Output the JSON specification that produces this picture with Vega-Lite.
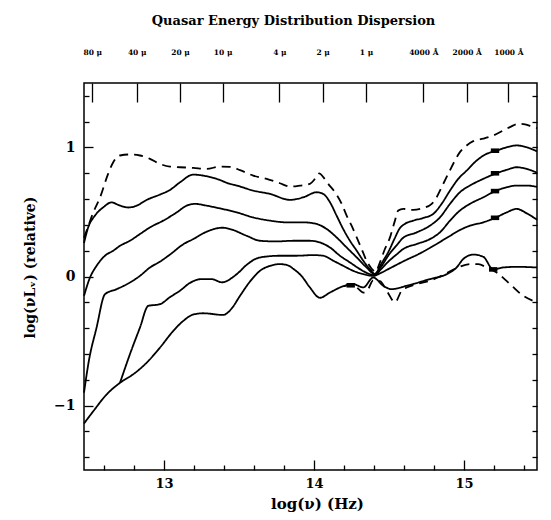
{
"$schema": "https://vega.github.io/schema/vega-lite/v6.json",
"width": 453, "height": 387,
"autosize": {"type": "none"},
"padding": {"left": 84, "top": 83, "right": 14, "bottom": 50},
"background": "white",
"title": {"text": "Quasar Energy Distribution Dispersion", "font": "DejaVu Serif", "fontSize": 13, "fontWeight": "bold", "anchor": "middle", "dx": -17, "offset": 20, "color": "black"},
"config": {
  "view": {"stroke": "black", "strokeWidth": 1.5},
  "axis": {"domain": false, "grid": false, "tickColor": "black", "tickWidth": 1.3, "labelColor": "black", "labelFont": "DejaVu Serif", "labelFontWeight": "bold", "titleFont": "DejaVu Serif", "titleFontWeight": "bold", "titleColor": "black", "labelFlush": false, "labelOverlap": false}
},
"datasets": {
"curves": [
{"series":"A","lognu":12.467,"loglum":0.30},{"series":"A","lognu":12.489,"loglum":0.37},{"series":"A","lognu":12.53,"loglum":0.50},{"series":"A","lognu":12.573,"loglum":0.61},{"series":"A","lognu":12.629,"loglum":0.80},{"series":"A","lognu":12.662,"loglum":0.886},{"series":"A","lognu":12.707,"loglum":0.938},{"series":"A","lognu":12.773,"loglum":0.946},{"series":"A","lognu":12.84,"loglum":0.938},{"series":"A","lognu":12.907,"loglum":0.912},{"series":"A","lognu":12.973,"loglum":0.873},{"series":"A","lognu":13.04,"loglum":0.852},{"series":"A","lognu":13.107,"loglum":0.847},{"series":"A","lognu":13.195,"loglum":0.842},{"series":"A","lognu":13.285,"loglum":0.834},{"series":"A","lognu":13.373,"loglum":0.852},{"series":"A","lognu":13.44,"loglum":0.85},{"series":"A","lognu":13.507,"loglum":0.825},{"series":"A","lognu":13.595,"loglum":0.782},{"series":"A","lognu":13.685,"loglum":0.757},{"series":"A","lognu":13.773,"loglum":0.723},{"series":"A","lognu":13.84,"loglum":0.697},{"series":"A","lognu":13.907,"loglum":0.705},{"series":"A","lognu":13.973,"loglum":0.718},{"series":"A","lognu":14.007,"loglum":0.757},{"series":"A","lognu":14.036,"loglum":0.80},{"series":"A","lognu":14.062,"loglum":0.77},{"series":"A","lognu":14.095,"loglum":0.718},{"series":"A","lognu":14.14,"loglum":0.653},{"series":"A","lognu":14.185,"loglum":0.563},{"series":"A","lognu":14.218,"loglum":0.472},{"series":"A","lognu":14.251,"loglum":0.394},{"series":"A","lognu":14.285,"loglum":0.303},{"series":"A","lognu":14.318,"loglum":0.213},{"series":"A","lognu":14.351,"loglum":0.122},{"series":"A","lognu":14.385,"loglum":0.06},{"series":"A","lognu":14.41,"loglum":0.035},{"series":"A","lognu":14.44,"loglum":0.11},{"series":"A","lognu":14.473,"loglum":0.213},{"series":"A","lognu":14.507,"loglum":0.303},{"series":"A","lognu":14.54,"loglum":0.433},{"series":"A","lognu":14.562,"loglum":0.511},{"series":"A","lognu":14.595,"loglum":0.524},{"series":"A","lognu":14.662,"loglum":0.516},{"series":"A","lognu":14.729,"loglum":0.531},{"series":"A","lognu":14.785,"loglum":0.563},{"series":"A","lognu":14.818,"loglum":0.614},{"series":"A","lognu":14.851,"loglum":0.692},{"series":"A","lognu":14.895,"loglum":0.796},{"series":"A","lognu":14.94,"loglum":0.899},{"series":"A","lognu":14.973,"loglum":0.964},{"series":"A","lognu":15.018,"loglum":1.016},{"series":"A","lognu":15.062,"loglum":1.049},{"series":"A","lognu":15.129,"loglum":1.068},{"series":"A","lognu":15.195,"loglum":1.093},{"series":"A","lognu":15.262,"loglum":1.132},{"series":"A","lognu":15.307,"loglum":1.158},{"series":"A","lognu":15.362,"loglum":1.184},{"series":"A","lognu":15.407,"loglum":1.179},{"series":"A","lognu":15.462,"loglum":1.158},{"series":"A","lognu":15.487,"loglum":1.15},
{"series":"B","lognu":12.467,"loglum":0.26},{"series":"B","lognu":12.495,"loglum":0.381},{"series":"B","lognu":12.54,"loglum":0.472},{"series":"B","lognu":12.595,"loglum":0.536},{"series":"B","lognu":12.651,"loglum":0.575},{"series":"B","lognu":12.695,"loglum":0.555},{"series":"B","lognu":12.762,"loglum":0.535},{"series":"B","lognu":12.818,"loglum":0.549},{"series":"B","lognu":12.885,"loglum":0.594},{"series":"B","lognu":12.973,"loglum":0.635},{"series":"B","lognu":13.04,"loglum":0.671},{"series":"B","lognu":13.107,"loglum":0.73},{"series":"B","lognu":13.195,"loglum":0.79},{"series":"B","lognu":13.262,"loglum":0.782},{"series":"B","lognu":13.351,"loglum":0.757},{"series":"B","lognu":13.44,"loglum":0.718},{"series":"B","lognu":13.485,"loglum":0.705},{"series":"B","lognu":13.595,"loglum":0.666},{"series":"B","lognu":13.707,"loglum":0.64},{"series":"B","lognu":13.84,"loglum":0.594},{"series":"B","lognu":13.929,"loglum":0.614},{"series":"B","lognu":14.018,"loglum":0.653},{"series":"B","lognu":14.062,"loglum":0.64},{"series":"B","lognu":14.107,"loglum":0.575},{"series":"B","lognu":14.151,"loglum":0.472},{"series":"B","lognu":14.195,"loglum":0.368},{"series":"B","lognu":14.24,"loglum":0.277},{"series":"B","lognu":14.285,"loglum":0.2},{"series":"B","lognu":14.329,"loglum":0.122},{"series":"B","lognu":14.373,"loglum":0.057},{"series":"B","lognu":14.405,"loglum":0.02},{"series":"B","lognu":14.45,"loglum":0.1},{"series":"B","lognu":14.5,"loglum":0.2},{"series":"B","lognu":14.54,"loglum":0.3},{"series":"B","lognu":14.57,"loglum":0.37},{"series":"B","lognu":14.605,"loglum":0.407},{"series":"B","lognu":14.662,"loglum":0.433},{"series":"B","lognu":14.729,"loglum":0.454},{"series":"B","lognu":14.795,"loglum":0.485},{"series":"B","lognu":14.851,"loglum":0.563},{"series":"B","lognu":14.907,"loglum":0.666},{"series":"B","lognu":14.962,"loglum":0.757},{"series":"B","lognu":15.018,"loglum":0.821},{"series":"B","lognu":15.085,"loglum":0.899},{"series":"B","lognu":15.151,"loglum":0.951},{"series":"B","lognu":15.207,"loglum":0.971},{"series":"B","lognu":15.285,"loglum":1.002},{"series":"B","lognu":15.351,"loglum":1.016},{"series":"B","lognu":15.418,"loglum":1.002},{"series":"B","lognu":15.487,"loglum":0.97},
{"series":"C","lognu":12.467,"loglum":-0.15},{"series":"C","lognu":12.507,"loglum":-0.008},{"series":"C","lognu":12.551,"loglum":0.083},{"series":"C","lognu":12.607,"loglum":0.161},{"series":"C","lognu":12.662,"loglum":0.2},{"series":"C","lognu":12.707,"loglum":0.238},{"series":"C","lognu":12.773,"loglum":0.277},{"series":"C","lognu":12.84,"loglum":0.329},{"series":"C","lognu":12.907,"loglum":0.381},{"series":"C","lognu":12.995,"loglum":0.433},{"series":"C","lognu":13.085,"loglum":0.497},{"series":"C","lognu":13.151,"loglum":0.549},{"series":"C","lognu":13.207,"loglum":0.563},{"series":"C","lognu":13.285,"loglum":0.549},{"series":"C","lognu":13.373,"loglum":0.528},{"series":"C","lognu":13.485,"loglum":0.497},{"series":"C","lognu":13.595,"loglum":0.458},{"series":"C","lognu":13.707,"loglum":0.433},{"series":"C","lognu":13.818,"loglum":0.42},{"series":"C","lognu":13.929,"loglum":0.42},{"series":"C","lognu":14.018,"loglum":0.407},{"series":"C","lognu":14.085,"loglum":0.368},{"series":"C","lognu":14.151,"loglum":0.303},{"series":"C","lognu":14.218,"loglum":0.225},{"series":"C","lognu":14.285,"loglum":0.148},{"series":"C","lognu":14.351,"loglum":0.07},{"series":"C","lognu":14.405,"loglum":0.02},{"series":"C","lognu":14.45,"loglum":0.08},{"series":"C","lognu":14.5,"loglum":0.17},{"series":"C","lognu":14.55,"loglum":0.24},{"series":"C","lognu":14.595,"loglum":0.3},{"series":"C","lognu":14.685,"loglum":0.342},{"series":"C","lognu":14.773,"loglum":0.394},{"series":"C","lognu":14.84,"loglum":0.458},{"series":"C","lognu":14.907,"loglum":0.563},{"series":"C","lognu":14.973,"loglum":0.653},{"series":"C","lognu":15.04,"loglum":0.705},{"series":"C","lognu":15.129,"loglum":0.757},{"series":"C","lognu":15.207,"loglum":0.796},{"series":"C","lognu":15.285,"loglum":0.827},{"series":"C","lognu":15.351,"loglum":0.847},{"series":"C","lognu":15.418,"loglum":0.834},{"series":"C","lognu":15.487,"loglum":0.805},
{"series":"D","lognu":12.467,"loglum":-0.9},{"series":"D","lognu":12.5,"loglum":-0.65},{"series":"D","lognu":12.55,"loglum":-0.4},{"series":"D","lognu":12.607,"loglum":-0.137},{"series":"D","lognu":12.685,"loglum":-0.098},{"series":"D","lognu":12.773,"loglum":-0.047},{"series":"D","lognu":12.84,"loglum":0.005},{"series":"D","lognu":12.907,"loglum":0.07},{"series":"D","lognu":12.973,"loglum":0.115},{"series":"D","lognu":13.04,"loglum":0.17},{"series":"D","lognu":13.129,"loglum":0.25},{"series":"D","lognu":13.195,"loglum":0.29},{"series":"D","lognu":13.29,"loglum":0.35},{"series":"D","lognu":13.39,"loglum":0.378},{"series":"D","lognu":13.44,"loglum":0.368},{"series":"D","lognu":13.551,"loglum":0.316},{"series":"D","lognu":13.64,"loglum":0.277},{"series":"D","lognu":13.751,"loglum":0.272},{"series":"D","lognu":13.862,"loglum":0.277},{"series":"D","lognu":13.973,"loglum":0.277},{"series":"D","lognu":14.04,"loglum":0.264},{"series":"D","lognu":14.107,"loglum":0.225},{"series":"D","lognu":14.173,"loglum":0.161},{"series":"D","lognu":14.24,"loglum":0.109},{"series":"D","lognu":14.307,"loglum":0.057},{"series":"D","lognu":14.373,"loglum":0.018},{"series":"D","lognu":14.405,"loglum":0.01},{"series":"D","lognu":14.45,"loglum":0.06},{"series":"D","lognu":14.5,"loglum":0.12},{"series":"D","lognu":14.55,"loglum":0.17},{"series":"D","lognu":14.595,"loglum":0.213},{"series":"D","lognu":14.685,"loglum":0.252},{"series":"D","lognu":14.773,"loglum":0.29},{"series":"D","lognu":14.84,"loglum":0.342},{"series":"D","lognu":14.907,"loglum":0.433},{"series":"D","lognu":14.973,"loglum":0.511},{"series":"D","lognu":15.04,"loglum":0.563},{"series":"D","lognu":15.129,"loglum":0.614},{"series":"D","lognu":15.207,"loglum":0.661},{"series":"D","lognu":15.285,"loglum":0.692},{"series":"D","lognu":15.351,"loglum":0.705},{"series":"D","lognu":15.418,"loglum":0.705},{"series":"D","lognu":15.487,"loglum":0.695},
{"series":"E","lognu":12.707,"loglum":-0.824},{"series":"E","lognu":12.773,"loglum":-0.603},{"series":"E","lognu":12.84,"loglum":-0.396},{"series":"E","lognu":12.895,"loglum":-0.228},{"series":"E","lognu":12.973,"loglum":-0.215},{"series":"E","lognu":13.04,"loglum":-0.16},{"series":"E","lognu":13.107,"loglum":-0.11},{"series":"E","lognu":13.173,"loglum":-0.05},{"series":"E","lognu":13.251,"loglum":-0.02},{"series":"E","lognu":13.318,"loglum":-0.02},{"series":"E","lognu":13.385,"loglum":-0.045},{"series":"E","lognu":13.485,"loglum":0.018},{"series":"E","lognu":13.551,"loglum":0.09},{"series":"E","lognu":13.618,"loglum":0.14},{"series":"E","lognu":13.685,"loglum":0.155},{"series":"E","lognu":13.773,"loglum":0.161},{"series":"E","lognu":13.885,"loglum":0.161},{"series":"E","lognu":13.995,"loglum":0.166},{"series":"E","lognu":14.062,"loglum":0.161},{"series":"E","lognu":14.129,"loglum":0.122},{"series":"E","lognu":14.195,"loglum":0.083},{"series":"E","lognu":14.262,"loglum":0.044},{"series":"E","lognu":14.329,"loglum":0.018},{"series":"E","lognu":14.395,"loglum":0.005},{"series":"E","lognu":14.45,"loglum":0.03},{"series":"E","lognu":14.5,"loglum":0.06},{"series":"E","lognu":14.55,"loglum":0.09},{"series":"E","lognu":14.6,"loglum":0.12},{"series":"E","lognu":14.7,"loglum":0.175},{"series":"E","lognu":14.8,"loglum":0.24},{"series":"E","lognu":14.9,"loglum":0.31},{"series":"E","lognu":14.973,"loglum":0.36},{"series":"E","lognu":15.04,"loglum":0.394},{"series":"E","lognu":15.129,"loglum":0.42},{"series":"E","lognu":15.207,"loglum":0.454},{"series":"E","lognu":15.285,"loglum":0.497},{"series":"E","lognu":15.351,"loglum":0.524},{"series":"E","lognu":15.418,"loglum":0.49},{"series":"E","lognu":15.487,"loglum":0.44},
{"series":"F","lognu":12.467,"loglum":-1.14},{"series":"F","lognu":12.529,"loglum":-1.044},{"series":"F","lognu":12.618,"loglum":-0.914},{"series":"F","lognu":12.707,"loglum":-0.824},{"series":"F","lognu":12.795,"loglum":-0.758},{"series":"F","lognu":12.885,"loglum":-0.668},{"series":"F","lognu":12.973,"loglum":-0.552},{"series":"F","lognu":13.062,"loglum":-0.422},{"series":"F","lognu":13.129,"loglum":-0.344},{"series":"F","lognu":13.195,"loglum":-0.295},{"series":"F","lognu":13.262,"loglum":-0.285},{"series":"F","lognu":13.395,"loglum":-0.298},{"series":"F","lognu":13.45,"loglum":-0.25},{"series":"F","lognu":13.507,"loglum":-0.15},{"series":"F","lognu":13.573,"loglum":-0.04},{"series":"F","lognu":13.64,"loglum":0.044},{"series":"F","lognu":13.7,"loglum":0.08},{"series":"F","lognu":13.773,"loglum":0.096},{"series":"F","lognu":13.83,"loglum":0.085},{"series":"F","lognu":13.862,"loglum":0.06},{"series":"F","lognu":13.92,"loglum":0.0},{"series":"F","lognu":13.973,"loglum":-0.085},{"series":"F","lognu":14.04,"loglum":-0.165},{"series":"F","lognu":14.107,"loglum":-0.124},{"series":"F","lognu":14.196,"loglum":-0.075},{"series":"F","lognu":14.262,"loglum":-0.059},{"series":"F","lognu":14.329,"loglum":-0.085},{"series":"F","lognu":14.395,"loglum":-0.008},{"series":"F","lognu":14.462,"loglum":-0.072},{"series":"F","lognu":14.518,"loglum":-0.098},{"series":"F","lognu":14.618,"loglum":-0.072},{"series":"F","lognu":14.773,"loglum":-0.02},{"series":"F","lognu":14.885,"loglum":0.018},{"series":"F","lognu":14.951,"loglum":0.07},{"series":"F","lognu":14.995,"loglum":0.135},{"series":"F","lognu":15.062,"loglum":0.17},{"series":"F","lognu":15.129,"loglum":0.153},{"series":"F","lognu":15.195,"loglum":0.055},{"series":"F","lognu":15.262,"loglum":0.07},{"series":"F","lognu":15.351,"loglum":0.075},{"series":"F","lognu":15.487,"loglum":0.07},
{"series":"G","lognu":14.2,"loglum":-0.075},{"series":"G","lognu":14.262,"loglum":-0.06},{"series":"G","lognu":14.3,"loglum":-0.1},{"series":"G","lognu":14.33,"loglum":-0.125},{"series":"G","lognu":14.36,"loglum":-0.1},{"series":"G","lognu":14.395,"loglum":-0.03},{"series":"G","lognu":14.44,"loglum":-0.035},{"series":"G","lognu":14.49,"loglum":-0.12},{"series":"G","lognu":14.54,"loglum":-0.2},{"series":"G","lognu":14.584,"loglum":-0.111},{"series":"G","lognu":14.618,"loglum":-0.085},{"series":"G","lognu":14.685,"loglum":-0.059},{"series":"G","lognu":14.773,"loglum":-0.033},{"series":"G","lognu":14.862,"loglum":0.013},{"series":"G","lognu":14.951,"loglum":0.065},{"series":"G","lognu":15.04,"loglum":0.096},{"series":"G","lognu":15.096,"loglum":0.096},{"series":"G","lognu":15.151,"loglum":0.07},{"series":"G","lognu":15.218,"loglum":0.031},{"series":"G","lognu":15.307,"loglum":-0.059},{"series":"G","lognu":15.396,"loglum":-0.15},{"series":"G","lognu":15.462,"loglum":-0.189},{"series":"G","lognu":15.487,"loglum":-0.2}
],
"marks": [
{"lognu":15.207,"loglum":0.975},{"lognu":15.207,"loglum":0.80},{"lognu":15.207,"loglum":0.662},{"lognu":15.207,"loglum":0.455},{"lognu":15.195,"loglum":0.055},{"lognu":14.245,"loglum":-0.068}
]
},
"layer": [
{
  "data": {"name": "curves"},
  "mark": {"type": "line", "color": "black", "strokeCap": "butt", "strokeJoin": "round", "interpolate": "monotone"},
  "encoding": {
    "x": {"field": "lognu", "type": "quantitative", "scale": {"domain": [12.467, 15.487], "nice": false, "zero": false},
          "axis": {"orient": "bottom", "values": [13, 14, 15], "format": "d", "tickSize": -10, "labelPadding": 17, "labelFontSize": 13, "title": "log(ν) (Hz)", "titleFontSize": 15, "titlePadding": 6, "titleX": 233}},
    "y": {"field": "loglum", "type": "quantitative", "scale": {"domain": [-1.5, 1.5], "nice": false, "zero": false},
          "axis": {"orient": "left", "values": [-1, 0, 1], "format": "d", "tickSize": -9, "labelPadding": 18, "labelFontSize": 14, "title": "log(νLᵥ) (relative)", "titleFontSize": 14, "titlePadding": 16, "titleY": 184}},
    "detail": {"field": "series", "type": "nominal"},
    "strokeDash": {"field": "series", "type": "nominal", "scale": {"domain": ["A","B","C","D","E","F","G"], "range": [[9,6],[1,0],[1,0],[1,0],[1,0],[1,0],[9,6]]}, "legend": null},
    "strokeWidth": {"field": "series", "type": "nominal", "scale": {"domain": ["A","B","C","D","E","F","G"], "range": [1.8,1.8,1.8,3.3,1.8,1.8,1.8]}, "legend": null}
  }
},
{
  "data": {"name": "marks"},
  "mark": {"type": "point", "shape": "M-1,-0.55L1,-0.55L1,0.55L-1,0.55Z", "filled": true, "color": "black", "size": 70, "opacity": 1},
  "encoding": {
    "x": {"field": "lognu", "type": "quantitative", "scale": {"domain": [12.467, 15.487], "nice": false, "zero": false},
          "axis": {"orient": "bottom", "values": [12.6, 12.8, 13.2, 13.4, 13.6, 13.8, 14.2, 14.4, 14.6, 14.8, 15.2, 15.4], "tickSize": -5, "labels": false, "title": null}},
    "y": {"field": "loglum", "type": "quantitative", "scale": {"domain": [-1.5, 1.5], "nice": false, "zero": false},
          "axis": {"orient": "left", "values": [-1.4, -1.2, -0.8, -0.6, -0.4, -0.2, 0.2, 0.4, 0.6, 0.8, 1.2, 1.4], "tickSize": -5, "labels": false, "title": null}}
  }
},
{
  "data": {"name": "marks"},
  "mark": {"type": "point", "opacity": 0},
  "encoding": {
    "x": {"field": "lognu", "type": "quantitative", "scale": {"domain": [12.467, 15.487], "nice": false, "zero": false},
          "axis": {"orient": "top", "values": [12.522, 12.818, 13.107, 13.391, 13.769, 14.058, 14.347, 14.729, 15.018, 15.296], "tickSize": -19, "labelPadding": 46, "labelFontSize": 7.5, "title": null,
                   "labelExpr": "datum.value < 12.6 ? '80 μ' : datum.value < 12.9 ? '40 μ' : datum.value < 13.2 ? '20 μ' : datum.value < 13.5 ? '10 μ' : datum.value < 13.9 ? '4 μ' : datum.value < 14.2 ? '2 μ' : datum.value < 14.5 ? '1 μ' : datum.value < 14.9 ? '4000 Å' : datum.value < 15.15 ? '2000 Å' : '1000 Å'"}},
    "y": {"field": "loglum", "type": "quantitative", "scale": {"domain": [-1.5, 1.5], "nice": false, "zero": false},
          "axis": {"orient": "right", "values": [-1.4, -1.2, -1, -0.8, -0.6, -0.4, -0.2, 0, 0.2, 0.4, 0.6, 0.8, 1, 1.2, 1.4], "tickSize": -5, "labels": false, "title": null}}
  }
}
],
"resolve": {"axis": {"x": "independent", "y": "independent"}}
}
